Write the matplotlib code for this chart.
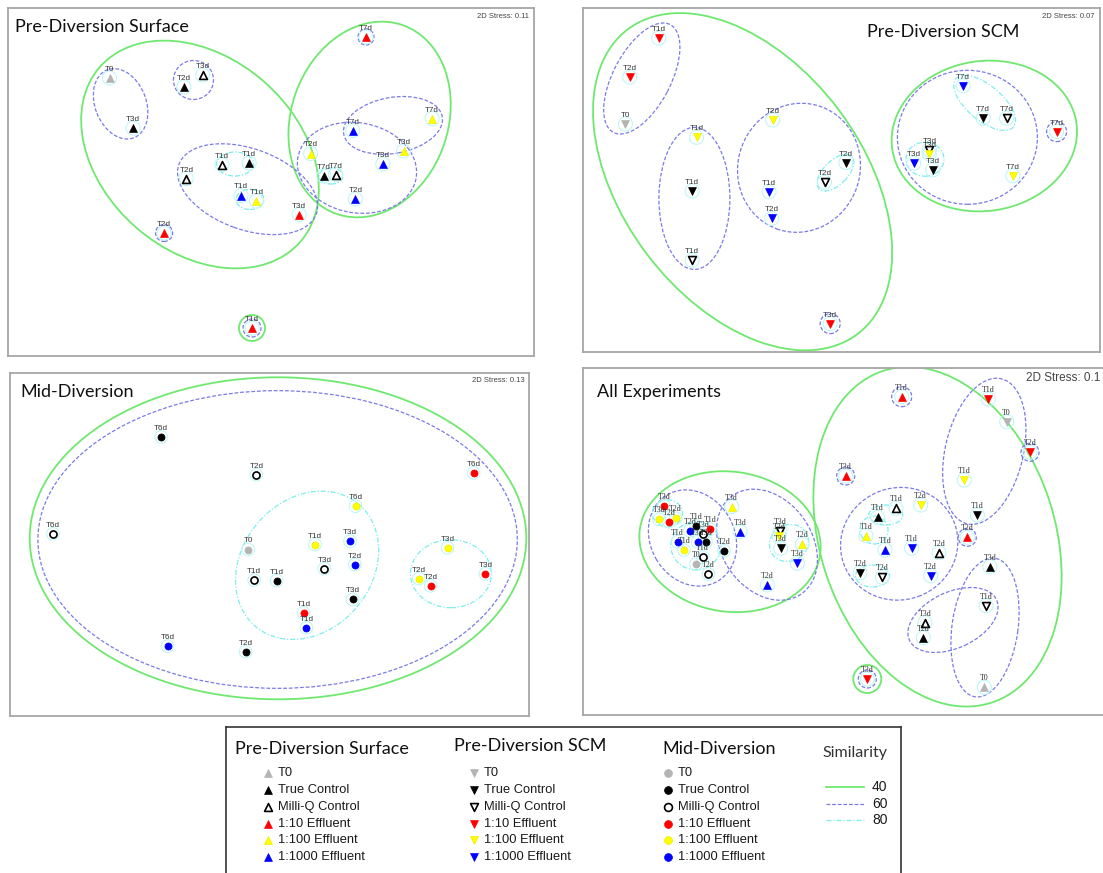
import matplotlib
matplotlib.use('Agg')
import matplotlib.pyplot as plt
from matplotlib.patches import Ellipse

plt.rcParams['font.family'] = ['Liberation Sans', 'DejaVu Sans']

W_PX, H_PX = 1103, 873

# ---- data (NMDS positions, in panel pixel units, y up) ----

# Pre-Diversion Surface
s_lab = ['T0', 'T3d', 'T2d', 'T3d', 'T1d', 'T1d', 'T2d', 'T1d', 'T1d', 'T3d', 'T2d',
         'T1d', 'T7d', 'T7d', 'T7d', 'T3d', 'T3d', 'T2d', 'T7d', 'T7d', 'T2d']
s_trt = ['T0', 'TC', 'TC', 'MQ', 'MQ', 'TC', 'MQ', 'E1000', 'E100', 'E10', 'E10',
         'E10', 'E10', 'E100', 'E1000', 'E100', 'E1000', 'E100', 'TC', 'MQ', 'E1000']
s_x = [101.5, 125.1, 175.8, 194.7, 214.0, 241.2, 178.3, 233.0, 248.3, 291.2, 156.1,
       244.0, 358.0, 424.1, 344.8, 395.5, 374.8, 302.6, 315.9, 327.6, 347.3]
s_y = [278, 228, 269, 281, 191.5, 193, 177.5, 160.5, 155, 141.5, 123,
       28, 319, 237.5, 225.5, 205, 192, 202.5, 180, 181.5, 157]
# similarity contours: (level, cx, cy, width, height, angle)
s_ell = [(40, 192, 201.5, 266, 194, -41), (40, 361.6, 236.5, 200, 157, 70.6),
         (40, 244.0, 28, 26, 26, 0),
         (60, 112.6, 252.2, 73, 51, -68.4), (60, 185.5, 276, 40, 39, 0),
         (60, 239.6, 166.8, 146, 81, -19.8), (60, 349, 188.2, 120, 90, -10),
         (60, 385, 230.6, 100, 56, 10), (60, 156.1, 123, 17, 17, 0),
         (60, 358.0, 319, 16, 16, 0), (60, 244.0, 28, 18, 18, 0),
         (80, 227, 192, 37, 24, 0), (80, 242, 156.5, 28, 20, 0), (80, 323, 180, 24, 16, 0)]

# Pre-Diversion SCM
c_lab = ['T1d', 'T2d', 'T0', 'T1d', 'T1d', 'T1d', 'T2d', 'T1d', 'T2d', 'T2d', 'T2d',
         'T3d', 'T7d', 'T7d', 'T7d', 'T7d', 'T3d', 'T3d', 'T7d', 'T3d', 'T3d']
c_trt = ['E10', 'E10', 'T0', 'E100', 'TC', 'MQ', 'E100', 'E1000', 'E1000', 'TC', 'MQ',
         'E10', 'E1000', 'TC', 'MQ', 'E10', 'MQ', 'E100', 'E100', 'E1000', 'TC']
c_x = [75.8, 46.8, 42.4, 113.6, 109.2, 109.2, 189.7, 186.0, 188.7, 262.9, 241.5,
       247.2, 380.1, 400.1, 423.5, 473.6, 346.3, 346.3, 429.9, 330.7, 349.7]
c_y = [313.9, 274.9, 228.1, 214.7, 161, 91.8, 232.1, 160.3, 133.6, 189.4, 169.7,
       28.4, 266.2, 233.8, 233.8, 220.4, 202, 198.1, 176.3, 188.7, 182]
c_ell = [(40, 159.6, 170.3, 381.6, 240, -53), (40, 401.3, 216, 186, 150, 8),
         (60, 58.8, 273.5, 121.8, 57.5, 62.2), (60, 111.4, 153.6, 142, 71, 90),
         (60, 216, 184.2, 122, 130, -20), (60, 384.4, 214.7, 140, 134, 0),
         (60, 473.6, 220.4, 20, 20, 0), (60, 247.2, 28.4, 20, 20, 0),
         (80, 252.5, 179.3, 46, 24, 45), (80, 401.6, 249.1, 75, 35, -40),
         (80, 342, 192.8, 38, 34, 0)]

# Mid-Diversion
m_lab = ['T6d', 'T2d', 'T6d', 'T6d', 'T6d', 'T1d', 'T3d', 'T0', 'T3d', 'T2d', 'T1d',
         'T1d', 'T3d', 'T1d', 'T1d', 'T6d', 'T2d', 'T3d', 'T2d', 'T2d', 'T3d']
m_trt = ['TC', 'MQ', 'E10', 'MQ', 'E100', 'E100', 'E1000', 'T0', 'MQ', 'E1000', 'MQ',
         'TC', 'TC', 'E10', 'E1000', 'E1000', 'TC', 'E100', 'E100', 'E10', 'E10']
m_x = [151.1, 246.3, 463.6, 43.0, 345.5, 305.0, 340.1, 238.1, 314.3, 344.8, 244.2,
       266.7, 342.6, 293.6, 296.4, 157.5, 235.6, 437.5, 408.9, 420.7, 475.4]
m_y = [279.1, 241.4, 243.1, 182.2, 209.8, 171.5, 174.8, 166.5, 147.5, 151.5, 135.9,
       135.5, 116.6, 103.2, 88.3, 69.9, 64.3, 168.2, 137.5, 130.2, 142.2]
m_ell = [(40, 268, 177.7, 496.6, 322, 0), (60, 267.6, 176.5, 479.4, 297.7, 0),
         (80, 297.1, 150.7, 160, 130, 50), (80, 440.9, 142.3, 81, 68, 0)]

# All Experiments (circles = Mid, up = Surface, down = SCM)
a_c_lab = ['T3d', 'T3d', 'T2d', 'T2d', 'T1d', 'T2d', 'T3d', 'T1d', 'T3d', 'T1d', 'T3d',
           'T1d', 'T1d', 'T0', 'T2d', 'T2d']
a_c_trt = ['E10', 'E100', 'E10', 'E100', 'TC', 'E1000', 'MQ', 'E10', 'TC', 'E1000', 'E1000',
           'E100', 'MQ', 'T0', 'MQ', 'TC']
a_c_x = [81, 76, 86, 92.7, 113, 107, 120.3, 127, 123, 94.7, 114.7, 101, 119.7, 113, 125.3, 141]
a_c_y = [209, 195.7, 193.3, 196.7, 189, 184.3, 181, 185.7, 173.3, 173.3, 173.3, 165,
         157.7, 151, 141, 164.3]
a_u_lab = ['T3d', 'T3d', 'T2d', 'T2d', 'T1d', 'T3d', 'T2d', 'T1d', 'T1d', 'T1d', 'T1d',
           'T2d', 'T3d', 'T3d', 'T2d', 'T0']
a_u_trt = ['E100', 'E1000', 'E1000', 'E100', 'E10', 'E10', 'E10', 'TC', 'MQ', 'E100', 'E1000',
           'MQ', 'TC', 'MQ', 'TC', 'T0']
a_u_x = [148.7, 157, 184.3, 219.3, 318.7, 262.7, 384.3, 294.7, 313, 283, 302, 356, 407,
         342, 340.3, 401.3]
a_u_y = [208.3, 183.3, 130, 170.7, 318.3, 239, 177.7, 197.7, 206.7, 179.3, 165, 162.3,
         148.3, 92.3, 77.3, 27.7]
a_d_lab = ['T3d', 'T3d', 'T2d', 'T3d', 'T1d', 'T0', 'T2d', 'T1d', 'T1d', 'T2d', 'T1d',
           'T2d', 'T2d', 'T2d', 'T1d', 'T3d']
a_d_trt = ['TC', 'MQ', 'E100', 'E1000', 'E10', 'T0', 'E10', 'E100', 'TC', 'E100', 'E1000',
           'TC', 'MQ', 'E1000', 'MQ', 'E10']
a_d_x = [197.7, 197, 196, 214.3, 405.3, 423.7, 447, 381.3, 394.3, 337.7, 328.7, 277,
         299.3, 347.7, 403, 284.3]
a_d_y = [166.7, 184.3, 179, 151.7, 316, 293.3, 262.7, 235, 200, 210, 166.7, 142.3,
         137.7, 139.3, 109.3, 36]
a_ell = [(40, 147, 173.3, 182, 140, -8), (40, 354.5, 178.3, 349, 235, -71.9),
         (40, 284.3, 36, 28, 28, 0),
         (60, 109.5, 177, 100, 84, -60), (60, 184, 170.3, 120, 90, -55),
         (60, 316.2, 171.2, 118, 112, 20), (60, 401.3, 263.7, 149, 78, 76.7),
         (60, 402, 87.5, 140, 66, 82), (60, 370, 95, 96, 56, 25),
         (60, 318.7, 318.3, 20, 20, 0), (60, 262.7, 239, 18, 18, 0),
         (60, 447, 262.7, 18, 18, 0), (60, 384.3, 177.7, 18, 18, 0),
         (60, 284.3, 36, 18, 18, 0),
         (80, 84.5, 201.7, 30, 27, 0), (80, 112.8, 169.2, 50, 48, 0),
         (80, 206, 172, 40, 36, 30), (80, 302.8, 200, 34, 20, 0),
         (80, 291, 185, 28, 28, 0), (80, 289.5, 139, 34, 22, 0)]

leg_titles = ['Pre-Diversion Surface', 'Pre-Diversion SCM', 'Mid-Diversion']
leg_markers = ['^', 'v', 'o']
leg_items = ['T0', 'True Control', 'Milli-Q Control', '1:10 Effluent', '1:100 Effluent', '1:1000 Effluent']
leg_trts = ['T0', 'TC', 'MQ', 'E10', 'E100', 'E1000']
sim_levels = [40, 60, 80]

# ---- styles ----
face = {'T0': '#b4b4b4', 'TC': 'black', 'MQ': 'white', 'E10': '#ff0000',
        'E100': '#ffff00', 'E1000': '#0000ff'}
edge = {'T0': '#b4b4b4', 'TC': 'black', 'MQ': 'black', 'E10': '#ff0000',
        'E100': '#ecec00', 'E1000': '#0000ff'}
cstyle = {40: dict(color='#6fe86f', ls='-', lw=1.3),
          60: dict(color='#7a7ae8', ls=(0, (3, 1.5)), lw=0.9),
          80: dict(color='#7deeee', ls=(0, (4, 1.5, 1, 1.5)), lw=0.9)}

fig = plt.figure(figsize=(W_PX / 100, H_PX / 100), dpi=100)


def add_axes(x0, y0, w, h):
    ax = fig.add_axes([x0 / W_PX, 1 - (y0 + h) / H_PX, w / W_PX, h / H_PX])
    ax.set_xlim(0, w)
    ax.set_ylim(0, h)
    ax.set_xticks([])
    ax.set_yticks([])
    for sp in ax.spines.values():
        sp.set_color('#a6a6a6')
        sp.set_linewidth(1.3)
    return ax


def draw_contours(ax, ells):
    for lev, cx, cy, w, h, ang in ells:
        ax.add_patch(Ellipse((cx, cy), w, h, angle=ang, fill=False, zorder=1, **cstyle[lev]))


def draw_points(ax, xs, ys, labs, trts, marker, s, lab_font):
    ax.scatter(xs, ys, s=s * 3.2, facecolors='none', edgecolors='#b8f6f6', lw=0.7, zorder=2)
    for x, y, l, t in zip(xs, ys, labs, trts):
        ax.scatter([x], [y], s=s, marker=marker, facecolors=face[t], edgecolors=edge[t],
                   lw=1.2 if t == 'MQ' else 0.5, zorder=3)
        ax.text(x, y + 5, l, ha='center', va='bottom', fontsize=5.8, color='#333333',
                family=lab_font, zorder=4)


def titles(ax, w, h, title, tx, ty, stress, sx, sy, ssize=5.5):
    ax.text(tx, h - ty, title, ha='left', va='center', fontsize=13, family='Lato',
            color='#111111')
    ax.text(sx, h - sy, stress, ha='right', va='center', fontsize=ssize, color='#444444')


# Panel 1
ax1 = add_axes(8, 8, 526, 348)
draw_contours(ax1, s_ell)
draw_points(ax1, s_x, s_y, s_lab, s_trt, '^', 32, 'Liberation Sans')
titles(ax1, 526, 348, 'Pre-Diversion Surface', 7, 19, '2D Stress: 0.11', 521, 8)

# Panel 2
ax2 = add_axes(583, 8, 517, 344)
draw_contours(ax2, c_ell)
draw_points(ax2, c_x, c_y, c_lab, c_trt, 'v', 32, 'Liberation Sans')
titles(ax2, 517, 344, 'Pre-Diversion SCM', 284, 24, '2D Stress: 0.07', 512, 8)

# Panel 3
ax3 = add_axes(10, 373, 519, 343)
draw_contours(ax3, m_ell)
draw_points(ax3, m_x, m_y, m_lab, m_trt, 'o', 26, 'Liberation Sans')
titles(ax3, 519, 343, 'Mid-Diversion', 10.7, 19, '2D Stress: 0.13', 515, 7)

# Panel 4
ax4 = add_axes(583, 368, 525, 347)
draw_contours(ax4, a_ell)
draw_points(ax4, a_c_x, a_c_y, a_c_lab, a_c_trt, 'o', 26, 'Liberation Serif')
draw_points(ax4, a_u_x, a_u_y, a_u_lab, a_u_trt, '^', 32, 'Liberation Serif')
draw_points(ax4, a_d_x, a_d_y, a_d_lab, a_d_trt, 'v', 32, 'Liberation Serif')
titles(ax4, 525, 347, 'All Experiments', 14, 24, '2D Stress: 0.1', 517, 10, ssize=8.5)

# Legend box
lg = fig.add_axes([226 / W_PX, 1 - (727 + 160) / H_PX, 675 / W_PX, 160 / H_PX])
lg.set_xlim(0, 675)
lg.set_ylim(160, 0)
lg.set_xticks([])
lg.set_yticks([])
for sp in lg.spines.values():
    sp.set_color('#333333')
    sp.set_linewidth(1.2)

col_x = [9, 228, 436]
col_ty = [22, 19, 22]
mark_x = [42, 248, 442]
row_y = [46, 63, 80, 97, 113, 130]
for ci in range(3):
    lg.text(col_x[ci], col_ty[ci], leg_titles[ci], ha='left', va='center', fontsize=13,
            family='Lato', color='#111111')
    for ri in range(len(leg_items)):
        t = leg_trts[ri]
        lg.scatter([mark_x[ci]], [row_y[ri]], s=32, marker=leg_markers[ci],
                   facecolors=face[t], edgecolors=edge[t], lw=1.2 if t == 'MQ' else 0.5)
        lg.text(mark_x[ci] + 10, row_y[ri], leg_items[ri], ha='left', va='center',
                fontsize=9.3, color='#1a1a1a')

lg.text(596, 26, 'Similarity', ha='left', va='center', fontsize=11.5, family='Lato',
        color='#333333')
sim_y = [60, 77, 93]
for lev, yy in zip(sim_levels, sim_y):
    lg.plot([600, 638], [yy, yy], **cstyle[lev])
    lg.text(646, yy, str(lev), ha='left', va='center', fontsize=10, color='#1a1a1a')

fig.savefig('out.png', dpi=100)
